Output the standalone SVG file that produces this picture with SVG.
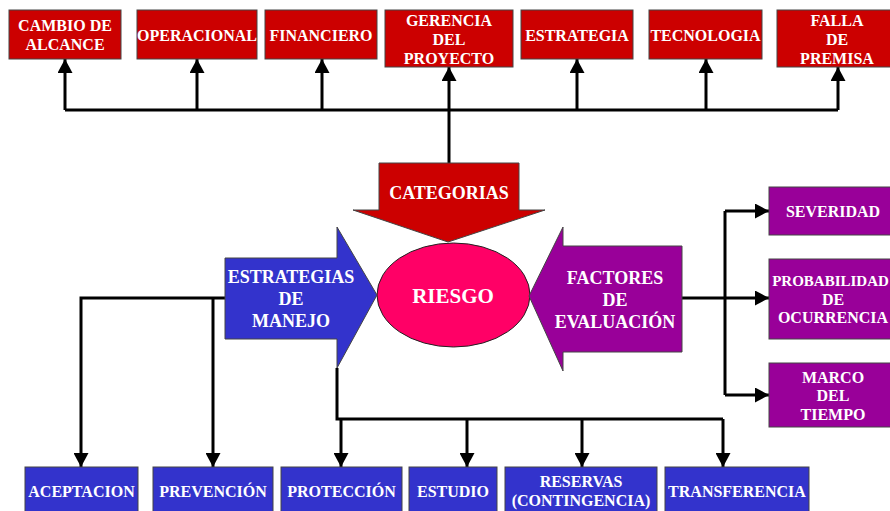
<svg xmlns="http://www.w3.org/2000/svg" width="890" height="511" viewBox="0 0 890 511">
  <style>
    .red { fill: #CC0000; stroke: #444; stroke-width: 1; }
    .blue { fill: #3333CC; stroke: #444; stroke-width: 1; }
    .purple { fill: #990099; stroke: #444; stroke-width: 1; }
    .pink { fill: #FF0066; stroke: #222; stroke-width: 1; }
    text { font-family: "Liberation Serif", "Times New Roman", serif; font-weight: bold; fill: #FFFFFF; text-anchor: middle; }
    .s { font-size: 16px; }
    .xs { font-size: 15px; }
    .m { font-size: 18px; }
    .l { font-size: 21px; }
    .wire { fill: none; stroke: #000; stroke-width: 3; }
    .arrow { fill: none; stroke: #000; stroke-width: 3; marker-end: url(#head); }
  </style>
  <defs>
    <marker id="head" markerUnits="userSpaceOnUse" markerWidth="15" markerHeight="15" refX="14" refY="7.5" orient="auto">
      <path d="M0,0 L14,7.5 L0,15 z" fill="#000"/>
    </marker>
  </defs>

  <rect width="890" height="511" fill="#FFFFFF"/>

  <!-- connectors -->
  <g id="connectors">
    <!-- categories bus -->
    <path class="wire" d="M65,110 H838"/>
    <path class="arrow" d="M65,110 V59"/>
    <path class="arrow" d="M197,110 V59"/>
    <path class="arrow" d="M322,110 V59"/>
    <path class="arrow" d="M449,163 V67"/>
    <path class="arrow" d="M577,110 V59"/>
    <path class="arrow" d="M706,110 V59"/>
    <path class="arrow" d="M838,110 V67"/>
    <!-- evaluation factors -->
    <path class="wire" d="M725,211 V395"/>
    <path class="arrow" d="M682,298 H769"/>
    <path class="arrow" d="M725,211 H769"/>
    <path class="arrow" d="M725,395 H769"/>
    <!-- management strategies -->
    <path class="arrow" d="M225,298 H81 V467"/>
    <path class="arrow" d="M213,298 V467"/>
    <path class="wire" d="M337,368 V419 H723"/>
    <path class="arrow" d="M341,419 V467"/>
    <path class="arrow" d="M467,419 V467"/>
    <path class="arrow" d="M582,419 V467"/>
    <path class="arrow" d="M723,419 V467"/>
  </g>

  <!-- risk categories -->
  <g id="cambio-alcance">
    <rect class="red" x="9" y="10" width="112" height="49"/>
    <text class="s" x="65" y="31">CAMBIO DE</text>
    <text class="s" x="65" y="50">ALCANCE</text>
  </g>
  <g id="operacional">
    <rect class="red" x="137" y="10" width="120" height="49"/>
    <text class="s" x="197" y="41">OPERACIONAL</text>
  </g>
  <g id="financiero">
    <rect class="red" x="265" y="10" width="112" height="49"/>
    <text class="s" x="321" y="41">FINANCIERO</text>
  </g>
  <g id="gerencia-proyecto">
    <rect class="red" x="385" y="10" width="128" height="57"/>
    <text class="s" x="449" y="26">GERENCIA</text>
    <text class="s" x="449" y="45">DEL</text>
    <text class="s" x="449" y="64">PROYECTO</text>
  </g>
  <g id="estrategia">
    <rect class="red" x="521" y="10" width="112" height="49"/>
    <text class="s" x="577" y="41">ESTRATEGIA</text>
  </g>
  <g id="tecnologia">
    <rect class="red" x="649" y="10" width="113" height="49"/>
    <text class="s" x="705.5" y="41">TECNOLOGIA</text>
  </g>
  <g id="falla-premisa">
    <rect class="red" x="777" y="10" width="120" height="57"/>
    <text class="s" x="837" y="26">FALLA</text>
    <text class="s" x="837" y="45">DE</text>
    <text class="s" x="837" y="64">PREMISA</text>
  </g>

  <!-- central block arrows -->
  <g id="categorias">
    <polygon class="red" points="379,163 519,163 519,210 545,210 448,242 353,210 379,210"/>
    <text class="m" x="449" y="199">CATEGORIAS</text>
  </g>
  <g id="riesgo">
    <ellipse class="pink" cx="453.5" cy="295" rx="76.5" ry="52"/>
    <text class="l" x="453" y="303">RIESGO</text>
  </g>
  <g id="estrategias-manejo">
    <polygon class="blue" points="225,258 337,258 337,227 377,295 337,368 337,339 225,339"/>
    <text class="m" x="291" y="283">ESTRATEGIAS</text>
    <text class="m" x="291" y="305">DE</text>
    <text class="m" x="291" y="327">MANEJO</text>
  </g>
  <g id="factores-evaluacion">
    <polygon class="purple" points="682,246 563,246 563,227 529,296 563,371 563,352 682,352"/>
    <text class="m" x="615" y="284">FACTORES</text>
    <text class="m" x="615" y="306">DE</text>
    <text class="m" x="615" y="328">EVALUACIÓN</text>
  </g>

  <!-- evaluation factors -->
  <g id="severidad">
    <rect class="purple" x="769" y="187" width="128" height="48"/>
    <text class="s" x="833" y="217">SEVERIDAD</text>
  </g>
  <g id="probabilidad">
    <rect class="purple" x="769" y="259" width="128" height="80"/>
    <text class="xs" x="830.5" y="286">PROBABILIDAD</text>
    <text class="s" x="833" y="305">DE</text>
    <text class="s" x="833" y="323">OCURRENCIA</text>
  </g>
  <g id="marco-tiempo">
    <rect class="purple" x="769" y="363" width="128" height="64"/>
    <text class="s" x="833" y="383">MARCO</text>
    <text class="s" x="833" y="401">DEL</text>
    <text class="s" x="833" y="420">TIEMPO</text>
  </g>

  <!-- management strategies -->
  <g id="aceptacion">
    <rect class="blue" x="25" y="467" width="113" height="50"/>
    <text class="s" x="81.5" y="497">ACEPTACION</text>
  </g>
  <g id="prevencion">
    <rect class="blue" x="153" y="467" width="120" height="50"/>
    <text class="s" x="213" y="497">PREVENCIÓN</text>
  </g>
  <g id="proteccion">
    <rect class="blue" x="281" y="467" width="121" height="50"/>
    <text class="s" x="341.5" y="497">PROTECCIÓN</text>
  </g>
  <g id="estudio">
    <rect class="blue" x="409" y="467" width="88" height="50"/>
    <text class="s" x="453" y="497">ESTUDIO</text>
  </g>
  <g id="reservas">
    <rect class="blue" x="505" y="467" width="152" height="50"/>
    <text class="s" x="581" y="487">RESERVAS</text>
    <text class="s" x="581" y="506">(CONTINGENCIA)</text>
  </g>
  <g id="transferencia">
    <rect class="blue" x="665" y="467" width="144" height="50"/>
    <text class="s" x="737" y="497">TRANSFERENCIA</text>
  </g>
</svg>
